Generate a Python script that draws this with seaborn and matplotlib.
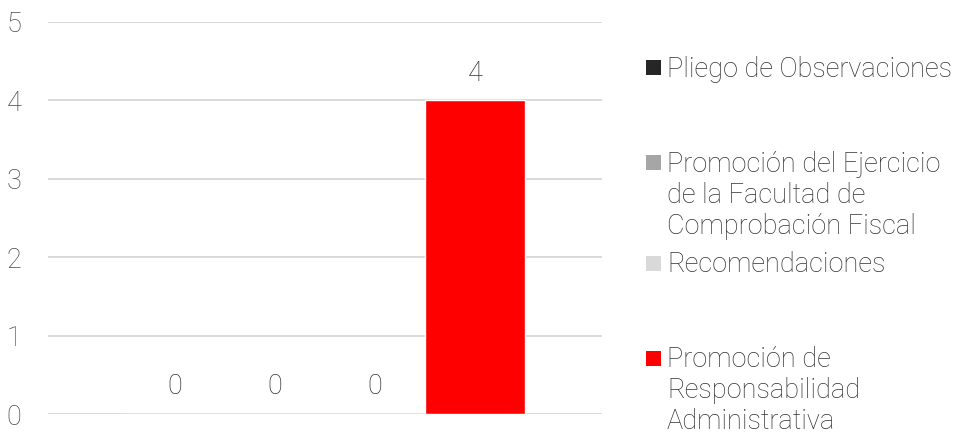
import matplotlib
matplotlib.use("Agg")
import matplotlib.pyplot as plt
import seaborn as sns
from matplotlib.patches import Rectangle

# data
series = ["Pliego de Observaciones",
          "Promoción del Ejercicio de la Facultad de Comprobación Fiscal",
          "Recomendaciones",
          "Promoción de Responsabilidad Administrativa"]
legend_labels = ["Pliego de Observaciones",
                 "Promoción del Ejercicio\nde la Facultad de\nComprobación Fiscal",
                 "Recomendaciones",
                 "Promoción de\nResponsabilidad\nAdministrativa"]
values = [0, 0, 0, 4]
colors = ["#262626", "#a6a6a6", "#d9d9d9", "#ff0000"]
yticks = [0, 1, 2, 3, 4, 5]

sns.set_theme(style="white")
plt.rcParams["font.family"] = ["Roboto", "DejaVu Sans"]
plt.rcParams["font.weight"] = "light"

W, H = 956, 436
fig = plt.figure(figsize=(W / 100, H / 100), dpi=100)
ax = fig.add_axes([48 / W, 1 - 414 / H, (602 - 48) / W, (414 - 22) / H])

sns.barplot(x=[""] * len(values), y=values, hue=series, palette=colors,
            width=0.722, gap=0, legend=False, saturation=1, ax=ax)

for c in ax.containers:
    ax.bar_label(c, padding=10, fontsize=19.5, color="#333333")

ax.set_xlim(-0.5, 0.5)
ax.set_ylim(0, 5)
ax.set_yticks(yticks)
ax.set_xticks([])
ax.set_xlabel("")
ax.set_ylabel("")
ax.yaxis.grid(True, color="#d9d9d9", linewidth=1.4)
ax.set_axisbelow(True)
ax.tick_params(axis="y", length=0, pad=19, labelsize=19.5, labelcolor="#4a4a4a")
sns.despine(ax=ax, left=True, bottom=True)

# legend drawn by hand (marker on first line like the original)
first_line_y = [68, 163, 263, 358]
for lab, col, yc in zip(legend_labels, colors, first_line_y):
    fig.add_artist(Rectangle((646 / W, 1 - (yc + 7.5) / H), 15 / W, 15 / H,
                             transform=fig.transFigure, color=col, lw=0))
    fig.text(667 / W, 1 - (yc - 12) / H, lab, ha="left", va="top",
             fontsize=19.5, color="#333333", linespacing=1.2)

fig.savefig("out.png", dpi=100)
